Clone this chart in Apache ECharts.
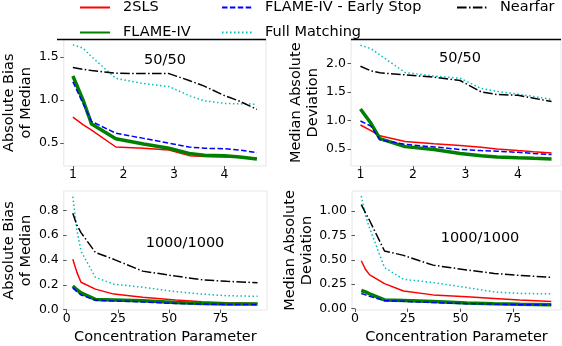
<!DOCTYPE html>
<html>
<head>
<meta charset="utf-8">
<script src="https://cdn.jsdelivr.net/npm/echarts@6/dist/echarts.min.js"></script>
<style>
  html, body { margin: 0; padding: 0; background: #fff; }
  #chart { width: 562px; height: 346px; }
</style>
</head>
<body>
<div id="chart"></div>
<script>
'use strict';

// x values
const xTop = [1.0, 1.2, 1.37, 1.85, 2.4, 2.9, 3.3, 3.6, 4.0, 4.3, 4.64];
const xBottom = [3, 5, 7, 14, 23, 37, 53, 66, 78, 93];

// top-left: absolute bias of median, 50/50
const tlRed = [0.80, 0.715, 0.65, 0.455, 0.44, 0.42, 0.355, 0.345, 0.34, 0.335, 0.325];
const tlGreen = [1.277, 1.0, 0.72, 0.55, 0.49, 0.44, 0.38, 0.36, 0.355, 0.34, 0.315];
const tlBlue = [1.21, 0.96, 0.75, 0.615, 0.555, 0.50, 0.455, 0.44, 0.435, 0.42, 0.39];
const tlCyan = [1.638, 1.60, 1.50, 1.25, 1.19, 1.155, 1.05, 0.99, 0.96, 0.955, 0.95];
const tlBlack = [1.375, 1.355, 1.34, 1.31, 1.305, 1.305, 1.225, 1.16, 1.05, 0.985, 0.89];

// top-right: median absolute deviation, 50/50
const trRed = [0.92, 0.82, 0.73, 0.63, 0.59, 0.56, 0.53, 0.50, 0.47, 0.45, 0.43];
const trGreen = [1.2, 0.95, 0.68, 0.54, 0.49, 0.42, 0.38, 0.36, 0.345, 0.335, 0.325];
const trBlue = [0.99, 0.90, 0.66, 0.58, 0.535, 0.49, 0.47, 0.46, 0.44, 0.42, 0.40];
const trCyan = [2.32, 2.26, 2.15, 1.84, 1.78, 1.74, 1.56, 1.51, 1.46, 1.42, 1.37];
const trBlack = [1.95, 1.87, 1.835, 1.80, 1.76, 1.70, 1.50, 1.455, 1.44, 1.39, 1.33];

// bottom-left: absolute bias of median, 1000/1000
const blRed = [0.405, 0.30, 0.22, 0.165, 0.125, 0.10, 0.078, 0.064, 0.056, 0.05];
const blGreen = [0.19, 0.16, 0.135, 0.082, 0.078, 0.072, 0.058, 0.05, 0.046, 0.045];
const blBlue = [0.175, 0.145, 0.118, 0.076, 0.07, 0.062, 0.05, 0.045, 0.042, 0.04];
const blCyan = [0.91, 0.64, 0.47, 0.26, 0.205, 0.18, 0.145, 0.125, 0.112, 0.107];
const blBlack = [0.775, 0.68, 0.62, 0.46, 0.405, 0.31, 0.27, 0.24, 0.228, 0.216];

// bottom-right: median absolute deviation, 1000/1000
const brRed = [0.49, 0.40, 0.345, 0.255, 0.18, 0.14, 0.12, 0.104, 0.088, 0.072];
const brGreen = [0.185, 0.17, 0.15, 0.088, 0.082, 0.072, 0.058, 0.05, 0.045, 0.04];
const brBlue = [0.155, 0.14, 0.125, 0.08, 0.075, 0.062, 0.05, 0.045, 0.04, 0.035];
const brCyan = [1.155, 0.95, 0.82, 0.42, 0.30, 0.266, 0.215, 0.17, 0.155, 0.15];
const brBlack = [1.065, 0.98, 0.90, 0.59, 0.545, 0.445, 0.395, 0.36, 0.34, 0.32];

// tick labels
const xTopTicks = [1, 2, 3, 4];
const xBottomTicks = [0, 25, 50, 75];
const tlTicks = [0.5, 1.0, 1.5];
const trTicks = [0.5, 1.0, 1.5, 2.0];
const blTicks = [0.0, 0.2, 0.4, 0.6, 0.8];
const brTicks = [0.0, 0.25, 0.5, 0.75, 1.0];

const methods = ['2SLS', 'FLAME-IV', 'FLAME-IV - Early Stop', 'Full Matching', 'Nearfar'];
const panelText = ['50/50', '50/50', '1000/1000', '1000/1000'];

const FONT = 'DejaVu Sans';
const styles = [
  { color: '#ff0000', width: 1.5, type: 'solid' },
  { color: '#008000', width: 3.5, type: 'solid' },
  { color: '#0000ff', width: 1.5, type: [5.5, 2.4] },
  { color: '#00bfbf', width: 1.5, type: [1.5, 2.5] },
  { color: '#000000', width: 1.5, type: [9.6, 2.4, 1.5, 2.4] },
];

const grids = [
  { left: 57, top: 39.5, width: 209, height: 126.5 },
  { left: 351, top: 39.5, width: 210, height: 126.5 },
  { left: 57, top: 191, width: 210, height: 126 },
  { left: 352, top: 191, width: 209, height: 126 },
];

function xAxisFor(i, min, max, ticks, name) {
  return {
    type: 'value', gridIndex: i, min, max,
    name: name || '', nameLocation: 'middle', nameGap: 20,
    nameTextStyle: { fontFamily: FONT, fontSize: 14.5, color: '#000' },
    axisLine: { show: false },
    splitLine: { show: false },
    axisTick: { show: true, length: 3.5, customValues: ticks, lineStyle: { color: '#555' } },
    axisLabel: { customValues: ticks, margin: 2, fontFamily: FONT, fontSize: 12.5, color: '#000' },
  };
}

function yAxisFor(i, min, max, ticks, digits, name, gap) {
  return {
    type: 'value', gridIndex: i, min, max,
    name, nameLocation: 'middle', nameGap: gap,
    nameTextStyle: { fontFamily: FONT, fontSize: 14.5, lineHeight: 17, color: '#000' },
    axisLine: { show: false },
    splitLine: { show: false },
    axisTick: { show: true, length: 3.5, customValues: ticks, lineStyle: { color: '#555' } },
    axisLabel: {
      customValues: ticks, margin: 5, fontFamily: FONT, fontSize: 12.5, color: '#000',
      formatter: (v) => v.toFixed(digits),
    },
  };
}

const panels = [
  { x: xTop, ys: [tlRed, tlGreen, tlBlue, tlCyan, tlBlack] },
  { x: xTop, ys: [trRed, trGreen, trBlue, trCyan, trBlack] },
  { x: xBottom, ys: [blRed, blGreen, blBlue, blCyan, blBlack] },
  { x: xBottom, ys: [brRed, brGreen, brBlue, brCyan, brBlack] },
];

const series = [];
panels.forEach((p, gi) => {
  p.ys.forEach((vals, si) => {
    series.push({
      type: 'line', name: methods[si], xAxisIndex: gi, yAxisIndex: gi,
      data: p.x.map((x, k) => [x, vals[k]]),
      symbol: 'none', silent: true, animation: false,
      lineStyle: { color: styles[si].color, width: styles[si].width, type: styles[si].type },
      itemStyle: { color: styles[si].color },
    });
  });
});

function legendCol(left, names) {
  return {
    left, top: 0, padding: 0, orient: 'vertical', itemWidth: 30, itemHeight: 14, itemGap: 10,
    data: names, selectedMode: false,
    itemStyle: { opacity: 0, borderWidth: 0 },
    formatter: '{s|}{name}',
    textStyle: { fontFamily: FONT, fontSize: 14.5, color: '#000', rich: { s: { width: 8 } } },
  };
}

const textPos = [[165, 60], [460, 58], [185, 243], [480, 238]];

const chart = echarts.init(document.getElementById('chart'), null, { renderer: 'canvas' });
chart.setOption({
  backgroundColor: '#fff',
  animation: false,
  grid: grids.map((g) => Object.assign({ show: true, borderColor: '#e6e6e6', borderWidth: 1, backgroundColor: 'transparent' }, g)),
  xAxis: [
    xAxisFor(0, 0.82, 4.82, xTopTicks),
    xAxisFor(1, 0.82, 4.82, xTopTicks),
    xAxisFor(2, -1.4, 97.6, xBottomTicks, 'Concentration Parameter'),
    xAxisFor(3, -1.4, 97.6, xBottomTicks, 'Concentration Parameter'),
  ],
  yAxis: [
    yAxisFor(0, 0.235, 1.70, tlTicks, 1, 'Absolute Bias\nof Median', 24),
    yAxisFor(1, 0.20, 2.42, trTicks, 1, 'Median Absolute\nDeviation', 19),
    yAxisFor(2, -0.003, 0.955, blTicks, 1, 'Absolute Bias\nof Median', 24),
    yAxisFor(3, -0.015, 1.205, brTicks, 2, 'Median Absolute\nDeviation', 28),
  ],
  legend: [
    legendCol(79, methods.slice(0, 2)),
    legendCol(221, methods.slice(2, 4)),
    legendCol(456, methods.slice(4)),
  ],
  graphic: [
    { type: 'line', shape: { x1: grids[0].left, y1: 39.5, x2: grids[0].left + grids[0].width, y2: 39.5 }, style: { stroke: '#000', lineWidth: 1.5 } },
    { type: 'line', shape: { x1: grids[1].left, y1: 39.5, x2: grids[1].left + grids[1].width, y2: 39.5 }, style: { stroke: '#000', lineWidth: 1.5 } },
  ].concat(panelText.map((t, i) => ({
    type: 'text', x: textPos[i][0], y: textPos[i][1],
    style: { text: t, fontFamily: FONT, fontSize: 14.5, fill: '#000', textAlign: 'center', textVerticalAlign: 'middle' },
  }))),
  series,
});
</script>
</body>
</html>
